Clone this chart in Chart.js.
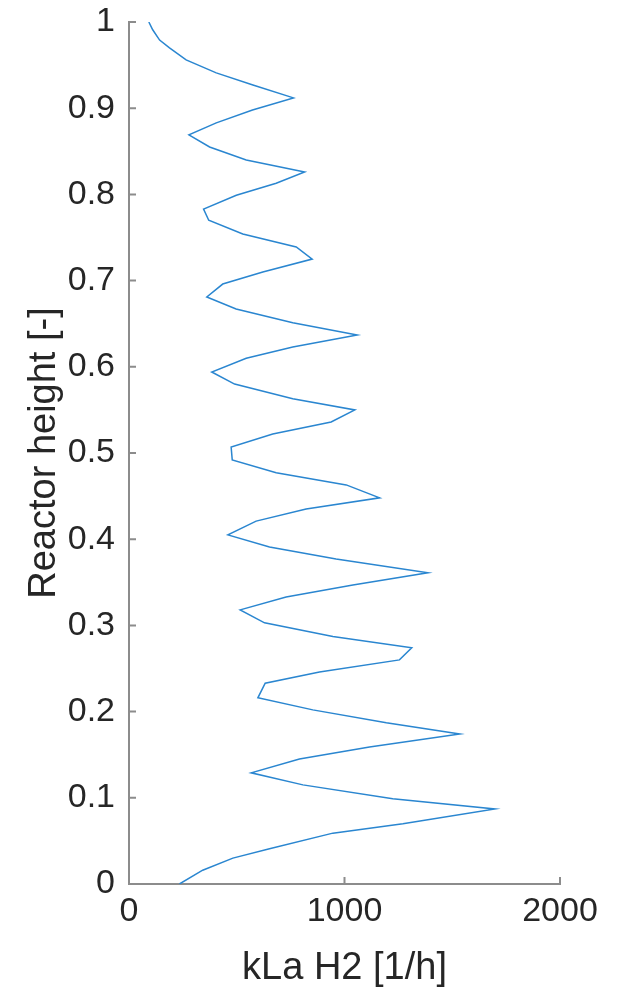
<!DOCTYPE html>
<html>
<head>
<meta charset="utf-8">
<script src="https://cdn.jsdelivr.net/npm/chart.js@4/dist/chart.umd.min.js"></script>
<style>
  html, body { margin: 0; padding: 0; background: #ffffff; }
  #wrap { width: 623px; height: 991px; position: relative; }
</style>
</head>
<body>
<div id="wrap"><canvas id="c" width="623" height="991"></canvas></div>
<script>
// Reactor height [-] (from top to bottom)
const heights = [1.000, 0.991, 0.979, 0.970, 0.956, 0.941, 0.927, 0.912, 0.898, 0.883, 0.869,
  0.855, 0.840, 0.826, 0.813, 0.799, 0.783, 0.770, 0.754, 0.739, 0.725,
  0.710, 0.696, 0.681, 0.667, 0.651, 0.637, 0.623, 0.610, 0.594, 0.580,
  0.563, 0.550, 0.536, 0.522, 0.507, 0.492, 0.477, 0.463, 0.448, 0.435,
  0.421, 0.405, 0.391, 0.377, 0.361, 0.347, 0.333, 0.318, 0.303, 0.287,
  0.274, 0.260, 0.246, 0.233, 0.216, 0.202, 0.187, 0.174, 0.159, 0.145,
  0.129, 0.115, 0.099, 0.087, 0.070, 0.059, 0.041, 0.030, 0.016, 0.000];
// kLa H2 [1/h]
const klaH2 = [92, 110, 142, 188, 265, 405, 575, 763, 573, 405, 278,
  374, 544, 815, 683, 498, 346, 370, 528, 776, 850,
  621, 435, 361, 497, 760, 1059, 760, 544, 384, 490,
  760, 1048, 938, 667, 474, 479, 683, 1008, 1163, 822,
  590, 459, 652, 961, 1387, 1039, 729, 516, 629, 946,
  1312, 1255, 884, 632, 598, 853, 1194, 1535, 1116, 791,
  567, 807, 1224, 1698, 1271, 946, 652, 482, 342, 234];
const xTicks = [0, 1000, 2000];
const yTicks = [0, 0.1, 0.2, 0.3, 0.4, 0.5, 0.6, 0.7, 0.8, 0.9, 1];
const xLabel = 'kLa H2 [1/h]';
const yLabel = 'Reactor height [-]';

const points = klaH2.map((v, i) => ({ x: v, y: heights[i] }));

const AXIS = '#8c8c8c';
const TEXT = '#262626';
const FONT = "'Liberation Sans', Arial, Helvetica, sans-serif";

const inwardTicks = {
  id: 'inwardTicks',
  afterDraw(chart) {
    const ctx = chart.ctx;
    const xs = chart.scales.x, ys = chart.scales.y;
    const L = 7;
    ctx.save();
    ctx.strokeStyle = AXIS;
    ctx.lineWidth = 2;
    ctx.beginPath();
    xTicks.forEach(t => {
      const px = xs.getPixelForValue(t);
      ctx.moveTo(px, ys.bottom);
      ctx.lineTo(px, ys.bottom - L);
    });
    yTicks.forEach(t => {
      const py = ys.getPixelForValue(t);
      ctx.moveTo(xs.left, py);
      ctx.lineTo(xs.left + L, py);
    });
    ctx.stroke();
    ctx.restore();
  }
};

new Chart(document.getElementById('c'), {
  type: 'line',
  data: {
    datasets: [{
      data: points,
      borderColor: '#2a86d0',
      borderWidth: 1.5,
      pointRadius: 0,
      fill: false,
      tension: 0
    }]
  },
  options: {
    responsive: false,
    animation: false,
    devicePixelRatio: 1,
    layout: { padding: { top: 22, right: 63, bottom: 0, left: 0 } },
    plugins: { legend: { display: false }, tooltip: { enabled: false } },
    scales: {
      x: {
        type: 'linear',
        min: 0, max: 2000,
        afterFit: s => { s.height = 107; s.paddingLeft = 0; s.paddingRight = 0; },
        afterBuildTicks: s => { s.ticks = xTicks.map(v => ({ value: v })); },
        grid: { display: true, color: 'transparent', drawTicks: false },
        border: { display: true, color: AXIS, width: 2 },
        ticks: {
          color: TEXT, padding: 7,
          font: { family: FONT, size: 34 },
          maxRotation: 0,
          callback: v => String(v)
        },
        title: {
          display: true, text: xLabel, color: TEXT,
          font: { family: FONT, size: 38 },
          padding: { top: 0, bottom: 0 }
        }
      },
      y: {
        type: 'linear',
        min: 0, max: 1,
        afterFit: s => { s.width = 129; s.paddingTop = 0; s.paddingBottom = 0; },
        afterBuildTicks: s => { s.ticks = yTicks.map(v => ({ value: v })); },
        grid: { display: true, color: 'transparent', drawTicks: false },
        border: { display: true, color: AXIS, width: 2 },
        ticks: {
          color: TEXT, padding: 14,
          font: { family: FONT, size: 34 },
          callback: v => String(Math.round(v * 10) / 10)
        },
        title: {
          display: true, text: yLabel, color: TEXT,
          font: { family: FONT, size: 38 },
          padding: { top: 22, bottom: 0 }
        }
      }
    }
  },
  plugins: [inwardTicks]
});
</script>
</body>
</html>
